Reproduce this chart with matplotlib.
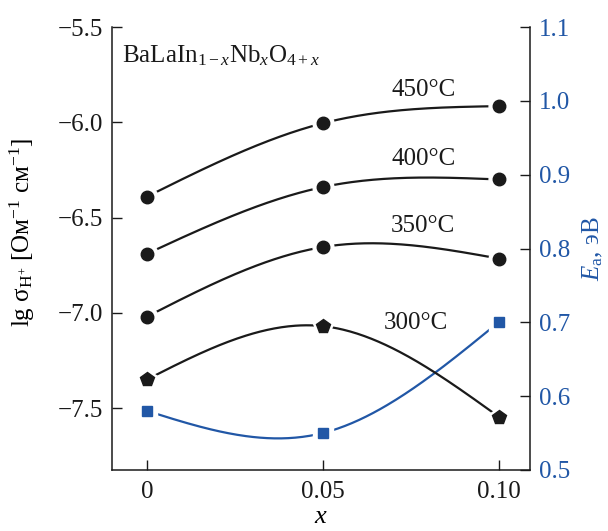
import numpy as np
import matplotlib
matplotlib.use("Agg")
import matplotlib.pyplot as plt

plt.rcParams['font.family'] = ['Liberation Serif', 'DejaVu Serif']
plt.rcParams['mathtext.fontset'] = 'custom'
plt.rcParams['mathtext.rm'] = 'Liberation Serif'
plt.rcParams['mathtext.it'] = 'Liberation Serif:italic'
plt.rcParams['mathtext.bf'] = 'Liberation Serif:bold'

# ---- data ----
x_vals = [0.0, 0.05, 0.10]
sigma_450 = [-6.39, -6.005, -5.915]
sigma_400 = [-6.69, -6.34, -6.30]
sigma_350 = [-7.02, -6.655, -6.715]
sigma_300 = [-7.35, -7.07, -7.545]
ea_vals = [0.58, 0.55, 0.70]
temp_labels = ["450°C", "400°C", "350°C", "300°C"]
left_ticks = [-5.5, -6.0, -6.5, -7.0, -7.5]
right_ticks = [0.5, 0.6, 0.7, 0.8, 0.9, 1.0, 1.1]
x_ticks = [0.0, 0.05, 0.10]
x_ticklabels = ["0", "0.05", "0.10"]

BLUE = "#2157a6"
BLACK = "#1a1a1a"


def natural_spline(xs, ys, n=200):
    xs = np.asarray(xs, float)
    ys = np.asarray(ys, float)
    k = len(xs)
    h = np.diff(xs)
    A = np.zeros((k, k))
    b = np.zeros(k)
    A[0, 0] = 1
    A[-1, -1] = 1
    for i in range(1, k - 1):
        A[i, i - 1] = h[i - 1]
        A[i, i] = 2 * (h[i - 1] + h[i])
        A[i, i + 1] = h[i]
        b[i] = 6 * ((ys[i + 1] - ys[i]) / h[i] - (ys[i] - ys[i - 1]) / h[i - 1])
    M = np.linalg.solve(A, b)
    xx = np.linspace(xs[0], xs[-1], n)
    yy = np.empty_like(xx)
    for j, xv in enumerate(xx):
        i = min(np.searchsorted(xs, xv, side='right') - 1, k - 2)
        t1 = xs[i + 1] - xv
        t0 = xv - xs[i]
        yy[j] = (M[i] * t1 ** 3 / (6 * h[i]) + M[i + 1] * t0 ** 3 / (6 * h[i])
                 + (ys[i] / h[i] - M[i] * h[i] / 6) * t1
                 + (ys[i + 1] / h[i] - M[i + 1] * h[i] / 6) * t0)
    return xx, yy


fig = plt.figure(figsize=(6.08, 5.31), dpi=100)
ax = fig.add_axes([0.184, 0.115, 0.688, 0.834])
ax2 = ax.twinx()

series = [(sigma_450, 'o'), (sigma_400, 'o'), (sigma_350, 'o'), (sigma_300, 'p')]
for ys, mk in series:
    xx, yy = natural_spline(x_vals, ys)
    ax.plot(xx, yy, color=BLACK, lw=1.6, zorder=2)
    ax.plot(x_vals, ys, ls='none', marker=mk, ms=15, color='white', zorder=3)
    ax.plot(x_vals, ys, ls='none', marker=mk, ms=9 if mk == 'o' else 10,
            color=BLACK, zorder=4)

xx, yy = natural_spline(x_vals, ea_vals)
ax2.plot(xx, yy, color=BLUE, lw=1.6, zorder=2)
ax2.plot(x_vals, ea_vals, ls='none', marker='s', ms=14, color='white', zorder=3)
ax2.plot(x_vals, ea_vals, ls='none', marker='s', ms=7.5, color=BLUE, zorder=4)

ax.set_xlim(-0.01, 0.109)
ax.set_ylim(-7.825, -5.5)
ax2.set_ylim(0.5, 1.1)

ax.set_xticks(x_ticks)
ax.set_xticklabels(x_ticklabels)
ax.set_yticks(left_ticks)
ax.set_yticklabels([f"−{abs(v):.1f}" for v in left_ticks])
ax2.set_yticks(right_ticks)
ax2.set_yticklabels([f"{v:.1f}" for v in right_ticks])

for a in (ax, ax2):
    a.spines['top'].set_visible(False)
    for s in a.spines.values():
        s.set_linewidth(1.1)
        s.set_color(BLACK)
ax.spines['right'].set_visible(False)
ax2.spines['left'].set_visible(False)
ax2.spines['bottom'].set_visible(False)

ax.tick_params(axis='both', direction='in', length=7, width=1.0,
               labelsize=18, colors=BLACK, pad=8)
ax.tick_params(axis='y', pad=6)
ax2.tick_params(axis='y', direction='in', length=7, width=1.0,
                labelsize=18, colors=BLACK, labelcolor=BLUE, pad=6)

ax.set_xlabel("$x$", fontsize=19, labelpad=2)
ax.set_ylabel(r"lg σ$_{\mathrm{H}^{+}}$ [Ом$^{-1}$ см$^{-1}$]", fontsize=18)
ax.yaxis.set_label_coords(-0.178, 0.537)
ax2.set_ylabel(r"$E_{\mathrm{a}}$, эВ", fontsize=18, color=BLUE)
ax2.yaxis.set_label_coords(1.122, 0.5)

ax.text(0.024, 0.921, r"BaLaIn$_{1-x}$Nb$_x$O$_{4+x}$", transform=ax.transAxes,
        fontsize=18, color=BLACK, va='baseline', ha='left')

label_pos = [(0.0786, -5.83), (0.0786, -6.19), (0.0786, -6.545), (0.0765, -7.055)]
for (lx, ly), t in zip(label_pos, temp_labels):
    ax.text(lx, ly, t, fontsize=18, color=BLACK, ha='center', va='center')

ax.set_zorder(ax2.get_zorder() + 1)
ax.patch.set_visible(False)

fig.savefig("out.png", dpi=100)
